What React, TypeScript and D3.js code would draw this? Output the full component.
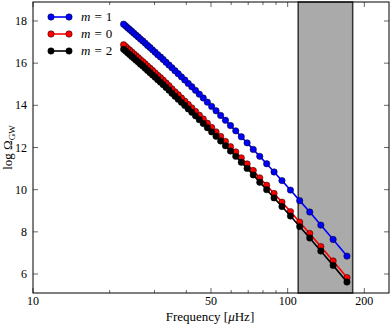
import React from 'react';
import * as d3 from 'd3';

// frequency in µHz (high -> low)
const freqs = [170.94, 150.83, 134.95, 122.10, 111.48, 102.56, 94.97, 88.42, 82.71, 77.70,
  73.26, 69.30, 65.75, 62.54, 59.63, 56.98, 54.56, 52.33, 50.28, 48.38,
  46.62, 44.98, 43.46, 42.03, 40.70, 39.45, 38.27, 37.16, 36.11, 35.12,
  34.19, 33.30, 32.46, 31.66, 30.89, 30.17, 29.47, 28.81, 28.18, 27.57,
  26.99, 26.43, 25.90, 25.39, 24.89, 24.42, 23.96, 23.52, 23.10, 22.69];

const m1 = [6.85, 7.64, 8.32, 8.94, 9.48, 9.98, 10.43, 10.84, 11.23, 11.58,
  11.91, 12.22, 12.51, 12.79, 13.04, 13.29, 13.52, 13.74, 13.95, 14.15,
  14.35, 14.53, 14.71, 14.88, 15.04, 15.20, 15.35, 15.50, 15.64, 15.78,
  15.91, 16.04, 16.17, 16.29, 16.40, 16.52, 16.63, 16.74, 16.84, 16.95,
  17.05, 17.14, 17.24, 17.33, 17.42, 17.51, 17.60, 17.68, 17.77, 17.85];

const m0 = [5.83, 6.62, 7.30, 7.92, 8.46, 8.96, 9.41, 9.82, 10.21, 10.56,
  10.91, 11.22, 11.51, 11.79, 12.04, 12.29, 12.52, 12.74, 12.95, 13.15,
  13.35, 13.53, 13.71, 13.88, 14.04, 14.20, 14.35, 14.50, 14.64, 14.78,
  14.93, 15.06, 15.19, 15.31, 15.42, 15.54, 15.65, 15.76, 15.86, 15.97,
  16.07, 16.16, 16.26, 16.35, 16.44, 16.53, 16.62, 16.70, 16.79, 16.87];

const m2 = [5.62, 6.41, 7.09, 7.71, 8.25, 8.75, 9.20, 9.61, 10.00, 10.35,
  10.70, 11.01, 11.30, 11.58, 11.83, 12.08, 12.31, 12.53, 12.74, 12.94,
  13.14, 13.32, 13.50, 13.67, 13.83, 13.99, 14.14, 14.29, 14.43, 14.57,
  14.72, 14.85, 14.98, 15.10, 15.21, 15.33, 15.44, 15.55, 15.65, 15.76,
  15.86, 15.95, 16.05, 16.14, 16.23, 16.32, 16.41, 16.49, 16.58, 16.66];

const series = [
  { label: '1', color: '#0000ff', values: m1 },
  { label: '0', color: '#ff0000', values: m0 },
  { label: '2', color: '#000000', values: m2 },
];

const band = [110, 180];
const xMajor = [10, 50, 100, 200];
const xMinor = [20, 30, 40, 60, 70, 80, 90];
const yTicks = [6, 8, 10, 12, 14, 16, 18];

const W = 390, H = 325;
const L = 33, R = 389, T = 2, B = 293;
const FONT = '"Liberation Serif", "DejaVu Serif", serif';

export default function App() {
  const x = d3.scaleLog().domain([10, 250]).range([L, R]);
  const y = d3.scaleLinear().domain([5.1, 18.9]).range([B, T]);
  const line = d3.line<number>().x((_, i) => x(freqs[i])).y(d => y(d));

  return (
    <svg width={W} height={H} style={{ position: 'absolute', left: 0, top: 0, background: '#fff' }}>
      <rect x={x(band[0])} y={T} width={x(band[1]) - x(band[0])} height={B - T}
        fill="#aaaaaa" stroke="#333" strokeWidth={1.5} />

      {series.map(s => (
        <g key={s.label}>
          <path d={line(s.values) || ''} fill="none" stroke={s.color} strokeWidth={1.6} />
          {s.values.map((v, i) => (
            <circle key={i} cx={x(freqs[i])} cy={y(v)} r={3.2} fill={s.color} stroke="#000" strokeWidth={0.5} />
          ))}
        </g>
      ))}

      {/* frame */}
      <rect x={L} y={T} width={R - L} height={B - T} fill="none" stroke="#000" strokeWidth={1} />

      {/* x ticks */}
      {xMajor.map(t => (
        <g key={'M' + t}>
          <line x1={x(t)} x2={x(t)} y1={B} y2={B - 5} stroke="#000" strokeWidth={0.6} />
          <line x1={x(t)} x2={x(t)} y1={T} y2={T + 5} stroke="#000" strokeWidth={0.6} />
          <text x={x(t)} y={B + 12} textAnchor="middle" fontFamily={FONT} fontSize={12}>{t}</text>
        </g>
      ))}
      {xMinor.map(t => (
        <g key={'m' + t}>
          <line x1={x(t)} x2={x(t)} y1={B} y2={B - 3} stroke="#000" strokeWidth={0.6} />
          <line x1={x(t)} x2={x(t)} y1={T} y2={T + 3} stroke="#000" strokeWidth={0.6} />
        </g>
      ))}

      {/* y ticks */}
      {yTicks.map(t => (
        <g key={'y' + t}>
          <line x1={L} x2={L + 5} y1={y(t)} y2={y(t)} stroke="#000" strokeWidth={0.6} />
          <line x1={R} x2={R - 5} y1={y(t)} y2={y(t)} stroke="#000" strokeWidth={0.6} />
          <text x={L - 6} y={y(t) + 4} textAnchor="end" fontFamily={FONT} fontSize={12}>{t}</text>
        </g>
      ))}

      <text x={210} y={H - 4} textAnchor="middle" fontFamily={FONT} fontSize={13}>
        Frequency [<tspan fontStyle="italic">μ</tspan>Hz]
      </text>
      <text transform={`translate(12,${(T + B) / 2}) rotate(-90)`} textAnchor="middle" fontFamily={FONT} fontSize={13}>
        log Ω<tspan fontSize={9} dy={3}>GW</tspan>
      </text>

      {/* legend */}
      {series.map((s, i) => {
        const ly = 17 + i * 17;
        return (
          <g key={'lg' + s.label}>
            <line x1={51} x2={69} y1={ly} y2={ly} stroke={s.color} strokeWidth={1.6} />
            <circle cx={51} cy={ly} r={3.2} fill={s.color} stroke="#000" strokeWidth={0.5} />
            <circle cx={69} cy={ly} r={3.2} fill={s.color} stroke="#000" strokeWidth={0.5} />
            <text x={81} y={ly + 4} fontFamily={FONT} fontSize={13}>
              <tspan fontStyle="italic">m</tspan>
              <tspan dx={4}>=</tspan>
              <tspan dx={4}>{s.label}</tspan>
            </text>
          </g>
        );
      })}
    </svg>
  );
}
